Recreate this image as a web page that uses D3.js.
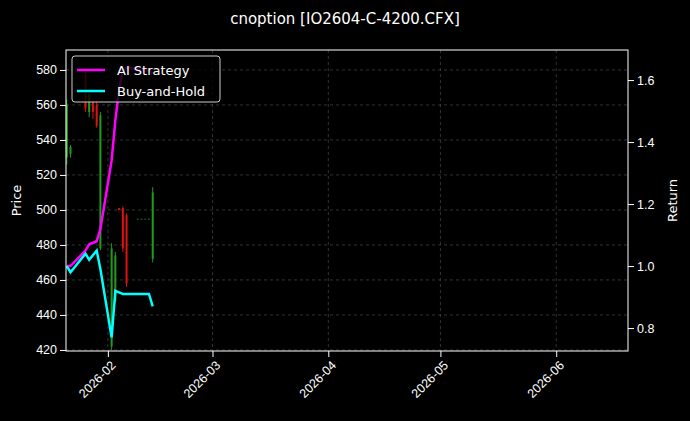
<!DOCTYPE html>
<html><head><meta charset="utf-8">
<script src="https://cdn.jsdelivr.net/npm/d3@7/dist/d3.min.js"></script>
<style>body{margin:0;background:#000}svg{font-family:"DejaVu Sans",sans-serif}</style>
</head><body><svg id="c" width="690" height="421"></svg>
<script>
const title = "cnoption [IO2604-C-4200.CFX]";
const candleDates = ["2026-01-21","2026-01-22","2026-01-26","2026-01-27","2026-01-28","2026-01-29","2026-01-30","2026-02-02","2026-02-03","2026-02-04","2026-02-05","2026-02-06","2026-02-09","2026-02-10","2026-02-11","2026-02-12","2026-02-13"];
const candleOpen  = [530,532,578,556,562,560,478,422,448,501,501,497,495,495,495,495,472];
const candleClose = [560,536,558,566,556,548,554,478,474,500,478,458,495,495,495,495,510];
const candleHigh  = [563,537,580,567,563,563,556,481,476,501,502,498,495,495,495,495,513];
const candleLow   = [526,530,556,553,552,547,477,420,447,500,476,456,495,495,495,495,470];
const lineDates = ["2026-01-21","2026-01-22","2026-01-26","2026-01-27","2026-01-29","2026-01-30","2026-02-02","2026-02-03","2026-02-04","2026-02-05","2026-02-06","2026-02-12","2026-02-13"];
const aiReturn = [1.00,1.00,1.05,1.07,1.08,1.12,1.34,1.47,1.57,1.63,1.64,1.63,1.62];
const bhReturn = [1.00,0.98,1.04,1.02,1.05,0.99,0.77,0.92,0.915,0.91,0.91,0.91,0.87];
const priceTicks = [420,440,460,480,500,520,540,560,580];
const returnTicks = [0.8,1.0,1.2,1.4,1.6];
const monthTicks = ["2026-02-01","2026-03-01","2026-04-01","2026-05-01","2026-06-01"];

const svg = d3.select("#c");
const L=66,R=628,T=50,B=351;
const p = d3.timeParse("%Y-%m-%d");
const x = d3.scaleTime().domain([new Date(2026,0,20,19), new Date(2026,5,20,5)]).range([L,R]);
const y = d3.scaleLinear().domain([419.4,591.4]).range([B,T]);
const y2 = d3.scaleLinear().domain([0.726,1.697]).range([B,T]);

svg.append("text").attr("x",345).attr("y",24).attr("text-anchor","middle").attr("fill","#fff").attr("font-size",15).text(title);

const g = svg.append("g");
priceTicks.forEach(t=>g.append("line").attr("x1",L).attr("x2",R).attr("y1",y(t)).attr("y2",y(t)).attr("stroke","#555").attr("stroke-width",0.6).attr("stroke-dasharray","3,3"));
monthTicks.forEach(t=>g.append("line").attr("y1",T).attr("y2",B).attr("x1",x(p(t))).attr("x2",x(p(t))).attr("stroke","#555").attr("stroke-width",0.6).attr("stroke-dasharray","3,3"));

candleDates.forEach((d,i)=>{
  const cx = x(p(d)), up = candleClose[i]>=candleOpen[i];
  const col = up? "#1f9a1f":"#e01010";
  svg.append("line").attr("x1",cx).attr("x2",cx).attr("y1",y(candleHigh[i])).attr("y2",y(candleLow[i])).attr("stroke",col).attr("stroke-width",1);
  const top=y(Math.max(candleOpen[i],candleClose[i])), bot=y(Math.min(candleOpen[i],candleClose[i]));
  svg.append("rect").attr("x",cx-1).attr("width",2).attr("y",top).attr("height",Math.max(0.8,bot-top)).attr("fill",col);
});

const ln = d3.line().x((d,i)=>x(p(lineDates[i]))).y(d=>y2(d));
svg.append("path").datum(aiReturn).attr("d",ln).attr("fill","none").attr("stroke","#ff00ff").attr("stroke-width",2.5);
svg.append("path").datum(bhReturn).attr("d",ln).attr("fill","none").attr("stroke","#00ffff").attr("stroke-width",2.5);

const ax = svg.append("g").attr("transform",`translate(0,${B})`).call(d3.axisBottom(x).tickValues(monthTicks.map(p)).tickFormat(d3.timeFormat("%Y-%m")).tickSizeOuter(0));
ax.selectAll("text").attr("transform","rotate(-45)").attr("text-anchor","end").attr("dx","-0.4em").attr("dy","0.6em");
const ay = svg.append("g").attr("transform",`translate(${L},0)`).call(d3.axisLeft(y).tickValues(priceTicks).tickSizeOuter(0));
const ay2 = svg.append("g").attr("transform",`translate(${R},0)`).call(d3.axisRight(y2).tickValues(returnTicks).tickFormat(d3.format(".1f")).tickSizeOuter(0));
[ax,ay,ay2].forEach(a=>{a.selectAll("path,line").attr("stroke","#fff");a.selectAll("text").attr("fill","#fff").attr("font-size",12.5);a.select(".domain").remove();});
svg.append("rect").attr("x",L).attr("y",T).attr("width",R-L).attr("height",B-T).attr("fill","none").attr("stroke","#fff").attr("stroke-width",1);

svg.append("text").attr("transform",`translate(21,${(T+B)/2}) rotate(-90)`).attr("text-anchor","middle").attr("fill","#fff").attr("font-size",13).text("Price");
svg.append("text").attr("transform",`translate(677,${(T+B)/2}) rotate(-90)`).attr("text-anchor","middle").attr("fill","#fff").attr("font-size",13).text("Return");

const lg = svg.append("g");
lg.append("rect").attr("x",72).attr("y",56).attr("width",148).attr("height",46).attr("rx",3).attr("fill","#000").attr("fill-opacity",0.8).attr("stroke","#ccc");
[["AI Strategy","#ff00ff"],["Buy-and-Hold","#00ffff"]].forEach((e,i)=>{
  const yy=70+i*21;
  lg.append("line").attr("x1",77).attr("x2",105).attr("y1",yy).attr("y2",yy).attr("stroke",e[1]).attr("stroke-width",2.5);
  lg.append("text").attr("x",117).attr("y",yy+4.5).attr("fill","#fff").attr("font-size",13).text(e[0]);
});
</script></body></html>
